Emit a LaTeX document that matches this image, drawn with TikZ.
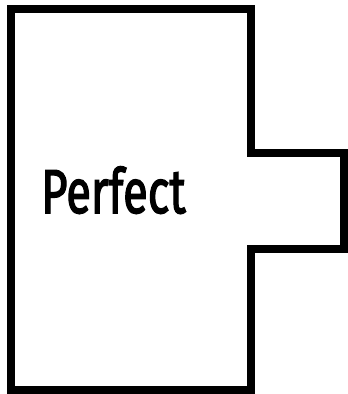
\documentclass[tikz,border=0pt]{standalone}
\usepackage{fontspec}
\setmainfont{Fira Sans}
\newfontfamily\lblfont{Fira Sans}[FakeBold=2.5]
\begin{document}
\begin{tikzpicture}[x=1pt,y=-1pt,
  outline/.style={line width=8pt, line join=miter, draw=black},
  label/.style={font=\fontsize{62}{62}\lblfont, inner sep=0pt, xscale=0.73}]
\useasboundingbox (0,0) rectangle (348,394);
\fill[white] (0,0) rectangle (348,394);
\draw[outline] (10.5,9) -- (251,9) -- (251,153) -- (344,153) -- (344,248.5)
  -- (251,248.5) -- (251,390) -- (10.5,390) -- cycle;
\node[label, anchor=base] (t) at (113.5,213) {Perfect};
\end{tikzpicture}
\end{document}
